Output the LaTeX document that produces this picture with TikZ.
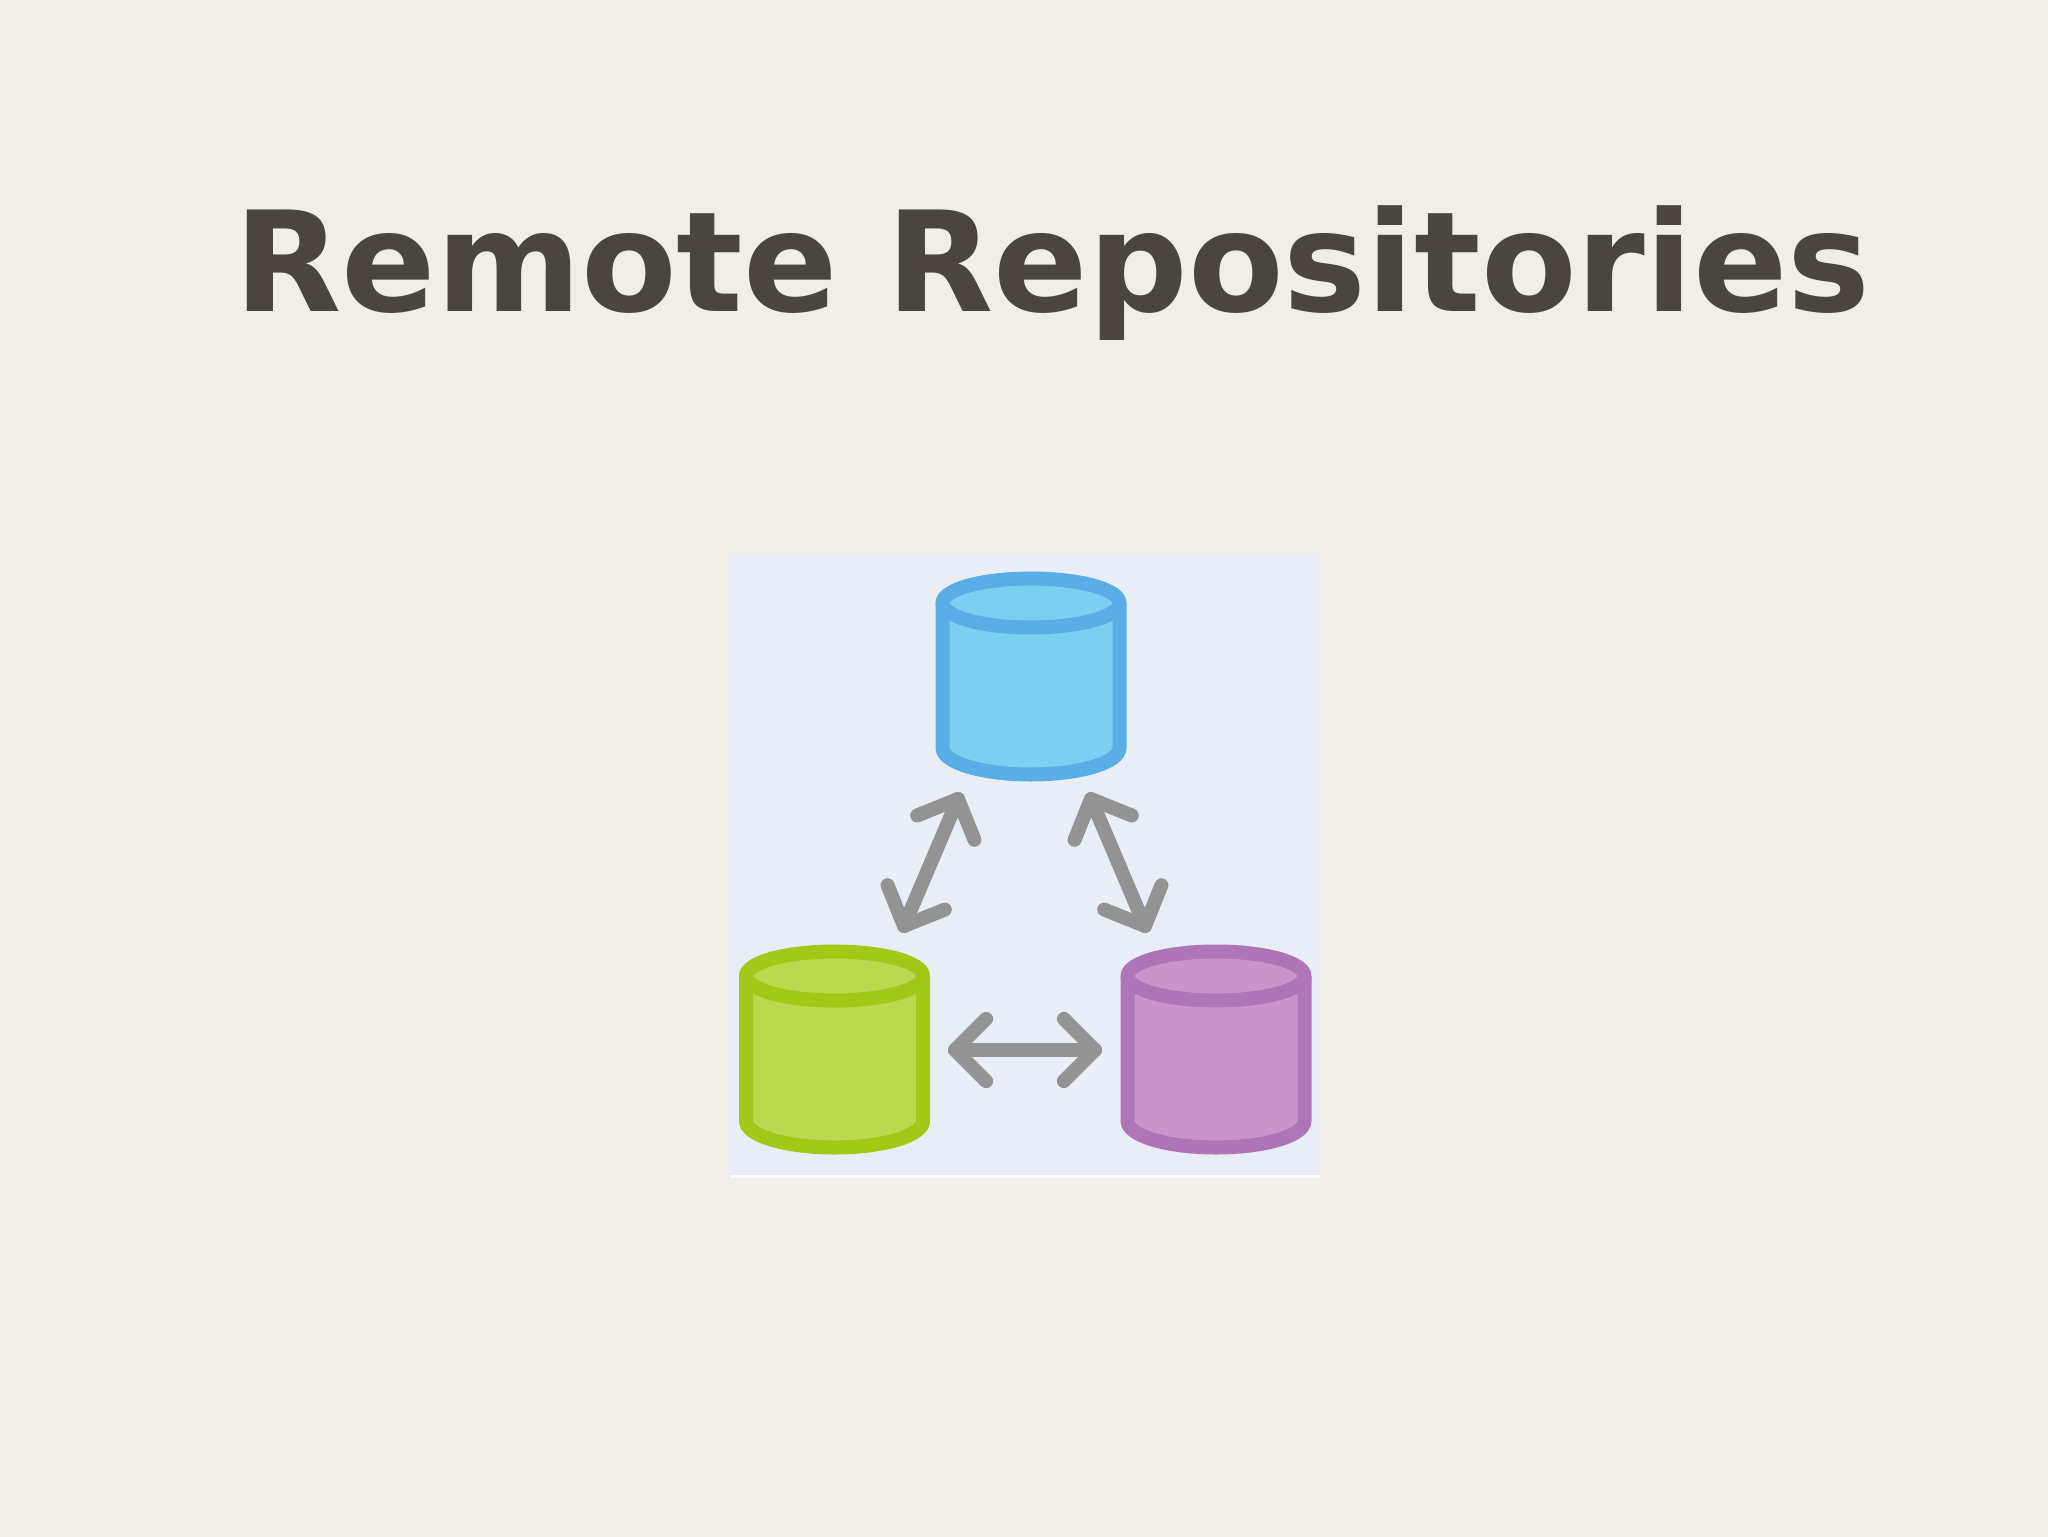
\documentclass[tikz,border=0pt]{standalone}
\usepackage{fontspec}
\setmainfont{DejaVu Sans}
\usetikzlibrary{calc}
\definecolor{bgc}{HTML}{F1EEEA}
\definecolor{bgtop}{HTML}{F1EFE6}
\definecolor{panelc}{HTML}{E9EEF6}
\definecolor{titlec}{HTML}{4A453F}
\definecolor{arrowc}{HTML}{939393}
\definecolor{blues}{HTML}{5AAEE6}
\definecolor{bluef}{HTML}{7CCFF0}
\definecolor{greens}{HTML}{A2C818}
\definecolor{greenf}{HTML}{BCD84E}
\definecolor{purples}{HTML}{AE76B6}
\definecolor{purplef}{HTML}{C795C9}
\tikzset{
  x=0.75pt,y=-0.75pt,
  titletext/.style={anchor=base west,inner sep=0pt,text=titlec,font=\fontsize{104.5}{120}\selectfont\bfseries},
  arrowline/.style={draw=arrowc,line width=10.5pt,line cap=round,line join=round},
  cylline/.style={line width=10.5pt,line join=round},
}
% name, centre x, top-ellipse centre y, stroke, fill
\newcommand{\repocyl}[5]{%
  \coordinate (#1) at (#2,#3+70);
  \path[fill=#5] (#2-88.5,#3) -- (#2-88.5,#3+145)
     arc[start angle=180,end angle=0,x radius=88.5,y radius=26.5] -- (#2+88.5,#3) -- cycle;
  \path[fill=#5] (#2,#3) ellipse[x radius=88.5,y radius=24.5];
  \draw[cylline,draw=#4] (#2-88.5,#3) -- (#2-88.5,#3+145)
     arc[start angle=180,end angle=0,x radius=88.5,y radius=26.5] -- (#2+88.5,#3);
  \draw[cylline,draw=#4] (#2,#3) ellipse[x radius=88.5,y radius=24.5];
}
\newcommand{\twoway}[2]{%
  \draw[arrowline] (#1) -- (#2);
  \draw[arrowline] ($(#1)!33pt!45:(#2)$) -- (#1) -- ($(#1)!33pt!-45:(#2)$);
  \draw[arrowline] ($(#2)!33pt!45:(#1)$) -- (#2) -- ($(#2)!33pt!-45:(#1)$);
}
\begin{document}
\begin{tikzpicture}
\useasboundingbox (0,0) rectangle (2048,1537);
\fill[bgc] (0,0) rectangle (2048,1537);
\shade[top color=bgtop,bottom color=bgc] (0,0) rectangle (2048,45);
\node[titletext] (title) at (234,311) {Remote Repositories};
\fill[panelc] (730,555) rectangle (1320,1175);
\fill[white!85!bgc] (730,1175) rectangle (1320,1178);
\repocyl{blue}{1031}{603}{blues}{bluef}
\repocyl{green}{834.5}{976}{greens}{greenf}
\repocyl{purple}{1216}{976}{purples}{purplef}
\coordinate (a1) at (958,799);
\coordinate (a2) at (904,926);
\coordinate (b1) at (1091,799);
\coordinate (b2) at (1145,926);
\coordinate (c1) at (955,1050);
\coordinate (c2) at (1095,1050);
\twoway{a1}{a2}
\twoway{b1}{b2}
\twoway{c1}{c2}
\end{tikzpicture}
\end{document}
